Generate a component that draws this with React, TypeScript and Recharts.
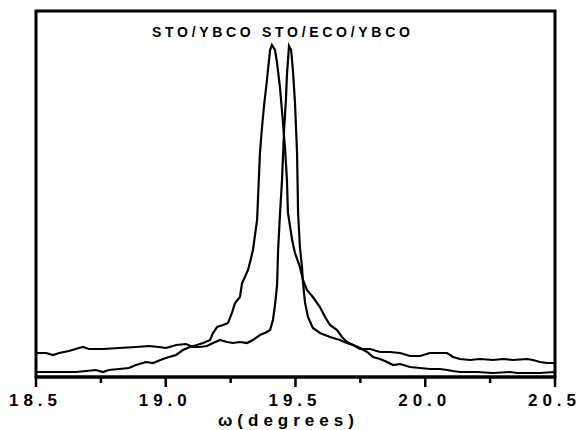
import React from 'react';
import { LineChart, Line, XAxis, YAxis, ReferenceArea } from 'recharts';

// STO/YBCO rocking curve (omega in degrees, intensity in arbitrary units)
const omegaStoYbco = [
  18.5, 18.566, 18.627, 18.654, 18.693, 18.731, 18.758, 18.781, 18.82, 18.858,
  18.885, 18.924, 18.951, 18.989, 19.013, 19.04, 19.066, 19.093, 19.12, 19.144,
  19.171, 19.182, 19.198, 19.221, 19.24, 19.255, 19.267, 19.286, 19.294, 19.305,
  19.317, 19.325, 19.336, 19.344, 19.352, 19.363, 19.371, 19.379, 19.39, 19.402,
  19.409, 19.421, 19.429, 19.44, 19.452, 19.46, 19.467, 19.471, 19.487, 19.498,
  19.517, 19.529, 19.544, 19.567, 19.594, 19.614, 19.633, 19.66, 19.679, 19.698,
  19.722, 19.749, 19.776, 19.799, 19.826, 19.853, 19.876, 19.903, 19.941, 19.98,
  20.018, 20.057, 20.084, 20.107, 20.134, 20.199, 20.261, 20.327, 20.354, 20.392,
  20.442, 20.5,
];
const intensityStoYbco = [
  5, 5, 5, 5, 6, 7, 5, 7, 8, 9,
  12, 15, 14, 18, 20, 22, 27, 30, 32, 34,
  37, 44, 50, 52, 54, 64, 74, 80, 94, 100,
  107, 115, 127, 142, 157, 224, 250, 272, 297, 327,
  332, 327, 314, 290, 254, 227, 197, 164, 137, 124,
  110, 97, 87, 80, 70, 60, 52, 47, 40, 35,
  32, 29, 25, 20, 18, 15, 12, 13, 10, 9,
  8, 8, 7, 6, 5, 5, 4, 5, 4, 4,
  4, 5,
];

// STO/ECO/YBCO rocking curve
const omegaStoEcoYbco = [
  18.5, 18.539, 18.566, 18.589, 18.627, 18.666, 18.681, 18.704, 18.758, 18.82,
  18.885, 18.935, 18.974, 19.001, 19.04, 19.078, 19.105, 19.132, 19.159, 19.182,
  19.209, 19.236, 19.259, 19.286, 19.313, 19.336, 19.363, 19.39, 19.402, 19.413,
  19.421, 19.429, 19.433, 19.44, 19.448, 19.456, 19.463, 19.467, 19.475, 19.483,
  19.49, 19.498, 19.506, 19.51, 19.517, 19.525, 19.529, 19.537, 19.548, 19.567,
  19.594, 19.633, 19.671, 19.698, 19.722, 19.749, 19.787, 19.826, 19.864, 19.903,
  19.941, 19.98, 20.018, 20.057, 20.084, 20.107, 20.134, 20.172, 20.211, 20.261,
  20.3, 20.338, 20.392, 20.415, 20.442, 20.469, 20.5,
];
const intensityStoEcoYbco = [
  24, 24, 22, 24, 26, 29, 30, 28, 28, 29,
  30, 31, 30, 29, 32, 33, 30, 30, 31, 34,
  37, 35, 34, 35, 34, 37, 42, 45, 47, 57,
  72, 92, 127, 162, 197, 247, 277, 302, 331, 327,
  307, 274, 224, 164, 130, 110, 94, 74, 60, 49,
  44, 40, 37, 34, 32, 28, 28, 25, 25, 24,
  21, 21, 24, 24, 24, 20, 18, 17, 18, 17,
  18, 17, 18, 17, 15, 14, 14,
];

const seriesNames = ['STO/YBCO', 'STO/ECO/YBCO'];
const xTicks = [18.5, 18.75, 19.0, 19.25, 19.5, 19.75, 20.0, 20.25, 20.5];
const xDomain = [18.5, 20.5];
const yDomain = [0, 366];
const xAxisTitle = 'ω(degrees)';

const dataStoYbco = omegaStoYbco.map((x, i) => ({ x, y: intensityStoYbco[i] }));
const dataStoEcoYbco = omegaStoEcoYbco.map((x, i) => ({ x, y: intensityStoEcoYbco[i] }));

const FONT = '"Liberation Sans", Arial, Helvetica, sans-serif';

const Spaced = ({ text, gap }: { text: string; gap: number }) => (
  <>
    {text.split('').map((c, i) => (
      <tspan key={i} dx={i === 0 ? 0 : gap}>
        {c}
      </tspan>
    ))}
  </>
);

const Tick = (props: any) => {
  const { x, y, payload } = props;
  const v = payload.value as number;
  const major = Math.abs(v * 2 - Math.round(v * 2)) < 1e-6;
  return (
    <g>
      <line x1={x} x2={x} y1={y - 1} y2={y + (major ? 10 : 6)} stroke="#000" strokeWidth={2.5} />
      {major && (
        <text
          x={x - 3}
          y={y + 29}
          textAnchor="middle"
          fontFamily={FONT}
          fontSize={17}
          fontWeight="bold"
          fill="#000"
        >
          <Spaced text={v.toFixed(1)} gap={5} />
        </text>
      )}
    </g>
  );
};

const AxisTitle = (props: any) => {
  const vb = props.viewBox || { x: 36, y: 377, width: 519 };
  return (
    <text
      x={vb.x + 182}
      y={vb.y + 49}
      textAnchor="start"
      fontFamily={FONT}
      fontSize={17}
      fontWeight="bold"
      letterSpacing={5}
      fill="#000"
    >
      {xAxisTitle}
    </text>
  );
};

export default function App() {
  return (
    <div style={{ position: 'absolute', left: 0, top: 0, width: 579, height: 430, background: '#fff' }}>
      <LineChart width={579} height={430} margin={{ top: 11, right: 24, bottom: 0, left: 36 }}>
        <XAxis
          type="number"
          dataKey="x"
          domain={xDomain}
          ticks={xTicks}
          interval={0}
          allowDataOverflow
          height={53}
          tickSize={0}
          tickMargin={0}
          tick={<Tick />}
          axisLine={{ stroke: '#000', strokeWidth: 3 }}
          label={{ content: <AxisTitle /> }}
        />
        <YAxis type="number" domain={yDomain} hide allowDataOverflow />
        <ReferenceArea
          x1={xDomain[0]}
          x2={xDomain[1]}
          y1={yDomain[0]}
          y2={yDomain[1]}
          fill="none"
          fillOpacity={0}
          stroke="#000"
          strokeWidth={3}
          ifOverflow="visible"
        />
        <Line
          data={dataStoYbco}
          dataKey="y"
          name={seriesNames[0]}
          type="linear"
          stroke="#000"
          strokeWidth={2.2}
          dot={false}
          isAnimationActive={false}
        />
        <Line
          data={dataStoEcoYbco}
          dataKey="y"
          name={seriesNames[1]}
          type="linear"
          stroke="#000"
          strokeWidth={2.2}
          dot={false}
          isAnimationActive={false}
        />
      </LineChart>
      <svg
        width={579}
        height={430}
        style={{ position: 'absolute', left: 0, top: 0, pointerEvents: 'none' }}
      >
        <text
          x={152}
          y={37}
          fontFamily={FONT}
          fontSize={14}
          fontWeight="bold"
          letterSpacing={3.7}
          fill="#000"
        >
          {seriesNames.join(' ')}
        </text>
      </svg>
    </div>
  );
}
